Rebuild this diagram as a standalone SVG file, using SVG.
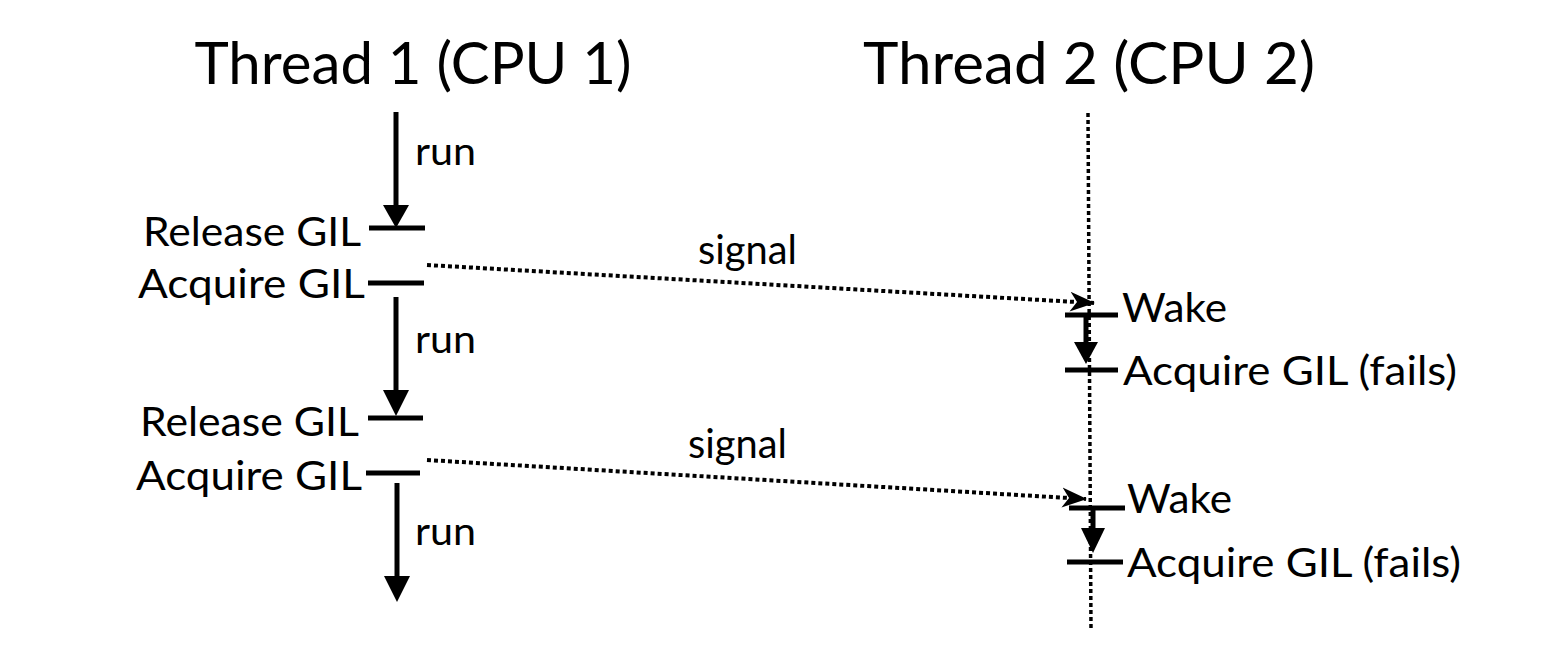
<svg xmlns="http://www.w3.org/2000/svg" width="1546" height="652" viewBox="0 0 1546 652">
<style>
text{font-family:Lato,"Liberation Sans",sans-serif;fill:#000}
.title{font-size:58px}
.lbl{font-size:41px}
.run{font-size:39px}
.tick{stroke:#000;stroke-width:5;fill:none}
.solid{stroke:#000;stroke-width:5;fill:none}
.head{fill:#000;stroke:none}
.dot{stroke:#000;stroke-width:3.5;stroke-dasharray:4 3;fill:none}
.sigl{stroke:#000;stroke-width:4;stroke-dasharray:4 3;fill:none}
</style>
<defs>
<marker id="sig" markerUnits="userSpaceOnUse" markerWidth="26" markerHeight="22" refX="24" refY="11" orient="auto" viewBox="0 0 26 22">
<path d="M0,1 L25,11 L0,21 L7,11 z" fill="#000"/>
</marker>
</defs>
<g id="title1"><text class="title" x="413" y="84" text-anchor="middle" textLength="437" lengthAdjust="spacingAndGlyphs">Thread 1 (CPU 1)</text></g>
<g id="title2"><text class="title" x="1089" y="84" text-anchor="middle" textLength="452" lengthAdjust="spacingAndGlyphs">Thread 2 (CPU 2)</text></g>
<g id="connectors">
<line class="dot" x1="1088" y1="113" x2="1091" y2="630"/>
<line class="solid" x1="396" y1="112" x2="396" y2="207"/>
<path class="head" d="M383,205 L409,205 L396,228 z"/>
<line class="solid" x1="396" y1="297" x2="396" y2="392"/>
<path class="head" d="M383,390 L409,390 L396,416 z"/>
<line class="solid" x1="397" y1="483" x2="397" y2="578"/>
<path class="head" d="M384,576 L410,576 L397,602 z"/>
<line class="solid" x1="1086" y1="315" x2="1086" y2="344"/>
<path class="head" d="M1074,342 L1098,342 L1086,364 z"/>
<line class="solid" x1="1093" y1="508" x2="1093" y2="530"/>
<path class="head" d="M1081,528 L1105,528 L1093,553 z"/>
<line class="sigl" x1="427" y1="265" x2="1094" y2="303" marker-end="url(#sig)"/>
<line class="sigl" x1="427" y1="460" x2="1086" y2="499" marker-end="url(#sig)"/>
</g>
<g id="release1"><line class="tick" x1="369" y1="228" x2="425" y2="228"/><text class="lbl" x="143" y="246" textLength="218" lengthAdjust="spacingAndGlyphs">Release GIL</text></g>
<g id="acquire1"><line class="tick" x1="368" y1="283" x2="424" y2="283"/><text class="lbl" x="138" y="298" textLength="227" lengthAdjust="spacingAndGlyphs">Acquire GIL</text></g>
<g id="run1"><text class="run" x="415" y="165" textLength="61" lengthAdjust="spacingAndGlyphs">run</text></g>
<g id="release2"><line class="tick" x1="368" y1="418" x2="423" y2="418"/><text class="lbl" x="140" y="436" textLength="219" lengthAdjust="spacingAndGlyphs">Release GIL</text></g>
<g id="acquire2"><line class="tick" x1="366" y1="473" x2="420" y2="473"/><text class="lbl" x="136" y="490" textLength="226" lengthAdjust="spacingAndGlyphs">Acquire GIL</text></g>
<g id="run2"><text class="run" x="415" y="353" textLength="61" lengthAdjust="spacingAndGlyphs">run</text></g>
<g id="run3"><text class="run" x="415" y="545" textLength="61" lengthAdjust="spacingAndGlyphs">run</text></g>
<g id="signal1"><text class="lbl" x="698" y="264" textLength="99" lengthAdjust="spacingAndGlyphs">signal</text></g>
<g id="signal2"><text class="lbl" x="688" y="458" textLength="99" lengthAdjust="spacingAndGlyphs">signal</text></g>
<g id="wake1"><line class="tick" x1="1065" y1="315" x2="1118" y2="315"/><text class="lbl" x="1122" y="322" textLength="105" lengthAdjust="spacingAndGlyphs">Wake</text></g>
<g id="fail1"><line class="tick" x1="1065" y1="370" x2="1118" y2="370"/><text class="lbl" x="1123" y="385" textLength="334" lengthAdjust="spacingAndGlyphs">Acquire GIL (fails)</text></g>
<g id="wake2"><line class="tick" x1="1069" y1="508" x2="1125" y2="508"/><text class="lbl" x="1127" y="513" textLength="105" lengthAdjust="spacingAndGlyphs">Wake</text></g>
<g id="fail2"><line class="tick" x1="1067" y1="562" x2="1123" y2="562"/><text class="lbl" x="1127" y="577" textLength="334" lengthAdjust="spacingAndGlyphs">Acquire GIL (fails)</text></g>
</svg>
